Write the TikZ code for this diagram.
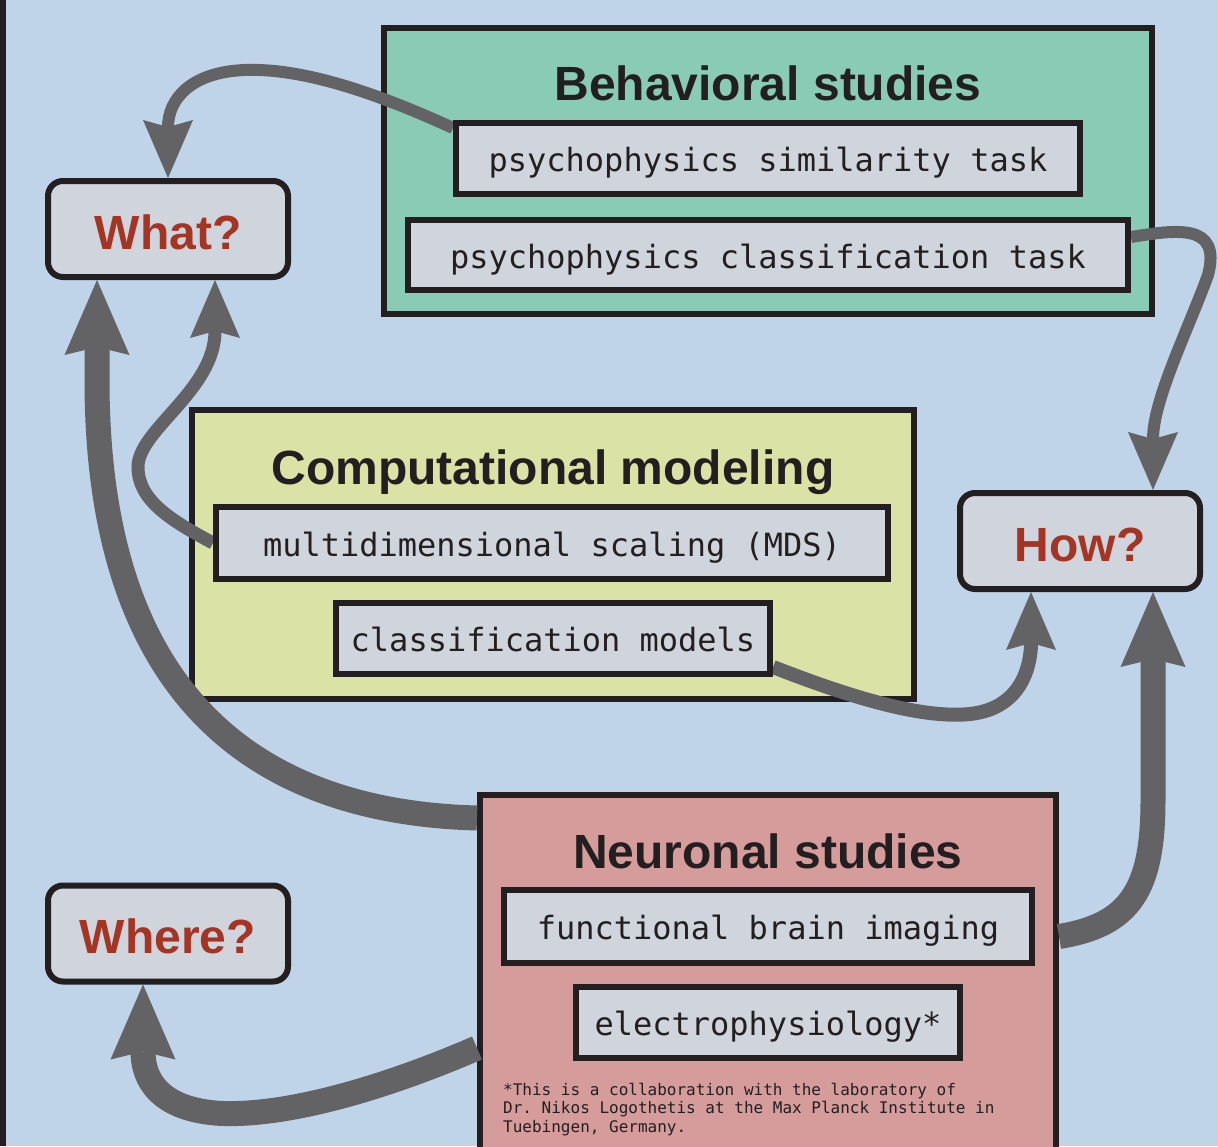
\documentclass[tikz,border=0pt]{standalone}
\usepackage{fontspec}
\setmainfont{Liberation Sans}
\setmonofont{DejaVu Sans Mono}
\usetikzlibrary{arrows.meta,calc}
\definecolor{bgblue}{RGB}{191,212,233}
\definecolor{greenbox}{RGB}{138,203,181}
\definecolor{yellowbox}{RGB}{219,226,166}
\definecolor{pinkbox}{RGB}{214,156,156}
\definecolor{innerbox}{RGB}{208,212,221}
\definecolor{edgeblack}{RGB}{35,31,32}
\definecolor{arrowgray}{RGB}{99,99,101}
\definecolor{qred}{RGB}{164,53,36}
\pgfdeclarelayer{groups}
\pgfdeclarelayer{items}
\pgfsetlayers{groups,main,items}
\tikzset{
  groupbox/.style={draw=edgeblack, line width=6pt, inner sep=0pt},
  itembox/.style={draw=edgeblack, fill=innerbox, line width=6pt, inner sep=0pt,
    font=\ttfamily\fontsize{32}{38}\selectfont, text=edgeblack,
    text height=32.5pt, text depth=6.5pt},
  question/.style={draw=edgeblack, fill=innerbox, line width=6pt, rounded corners=15pt,
    inner sep=0pt, minimum width=240pt, minimum height=96pt,
    font=\bfseries\fontsize{48}{56}\selectfont, text=qred,
    text height=40pt, text depth=0pt},
  grouptitle/.style={anchor=base, inner sep=0pt, font=\bfseries\fontsize{48}{56}\selectfont, text=edgeblack},
  thinarrow/.style={draw=arrowgray, line width=12pt,
    -{Stealth[length=58pt,width=50pt,inset=7pt,line width=0pt]}},
  thickarrow/.style={draw=arrowgray, line width=25pt,
    -{Stealth[length=75pt,width=65pt,inset=8pt,line width=0pt]}},
}
\begin{document}
\begin{tikzpicture}[x=1pt,y=-1pt]
\useasboundingbox (0,0) rectangle (1218,1146);
\begin{pgfonlayer}{groups}
\fill[bgblue] (0,0) rectangle (1218,1146);
\fill[edgeblack] (0,0) rectangle (6,1146);
% group boxes
\node[groupbox, fill=greenbox, minimum width=768pt, minimum height=286pt] (behav) at (768,171) {};
\node[groupbox, fill=yellowbox, minimum width=722pt, minimum height=289pt] (comp) at (553,554.5) {};
\begin{scope}
\clip (0,0) rectangle (1218,1146);
\node[groupbox, fill=pinkbox, minimum width=576pt, minimum height=362pt] (neuro) at (768,976) {};
\end{scope}
\node[grouptitle] (behavT) at (768,100) {Behavioral studies};
\node[grouptitle] (compT) at (553,484) {Computational modeling};
\node[grouptitle] (neuroT) at (768,868) {Neuronal studies};
\end{pgfonlayer}

\begin{pgfonlayer}{items}
% item boxes
\node[itembox, minimum width=624pt, minimum height=71pt] (sim) at (768,158.5) {psychophysics similarity task};
\node[itembox, minimum width=720pt, minimum height=70pt] (clstask) at (768,255) {psychophysics classification task};
\node[itembox, minimum width=672pt, minimum height=72pt] (mds) at (552,543) {multidimensional scaling (MDS)};
\node[itembox, minimum width=434pt, minimum height=71pt] (models) at (553,638.5) {classification models};
\node[itembox, minimum width=528pt, minimum height=73pt] (fbi) at (768,926.5) {functional brain imaging};
\node[itembox, minimum width=384pt, minimum height=71pt] (ephys) at (768,1022.5) {electrophysiology*};
% question boxes
\node[question] (what) at (168,229) {What?};
\node[question] (how) at (1080,541) {How?};
\node[question] (where) at (168,933.5) {Where?};
\node[anchor=north west, inner sep=0pt, align=left, text=edgeblack,
  font=\ttfamily\fontsize{16}{18.5}\selectfont] (note) at (503,1083)
  {*This is a collaboration with the laboratory of\\Dr. Nikos Logothetis at the Max Planck Institute in\\Tuebingen, Germany.};
\end{pgfonlayer}

% connectors
\draw[thinarrow] ([yshift=-8pt]sim.north west) .. controls (370,90) and (300,68) .. (245,70)
  .. controls (190,72) and (168,100) .. (what.north);
\draw[thinarrow] ([yshift=18pt]clstask.east) .. controls (1175,230) and (1222,222) .. (1208,275)
  .. controls (1188,330) and (1153,400) .. ([xshift=-50pt]how.north east);
\draw[thinarrow, line width=13pt] (mds.west) .. controls (170,520) and (138,500) .. (138,467)
  .. controls (138,430) and (215,390) .. ([xshift=47pt]what.south);
\draw[thinarrow, line width=14pt] ([yshift=10pt]models.south east) .. controls (870,705) and (930,718) .. (970,714)
  .. controls (1025,708) and (1031,660) .. ([xshift=74pt]how.south west);
\draw[thickarrow] ([yshift=-26pt]neuro.north west) .. controls (250,812) and (97,690) .. (97,380)
  -- ([xshift=52pt]what.south west);
\draw[thickarrow] ($(neuro.east |- fbi.east)+(0,10)$) .. controls (1130,925) and (1153,890) .. (1153,800)
  -- ([xshift=-50pt]how.south east);
\draw[thickarrow] ($(neuro.west)+(0,72)$) .. controls (380,1090) and (280,1118) .. (215,1113)
  .. controls (160,1108) and (143,1080) .. ([xshift=-25pt]where.south);
\end{tikzpicture}
\end{document}
